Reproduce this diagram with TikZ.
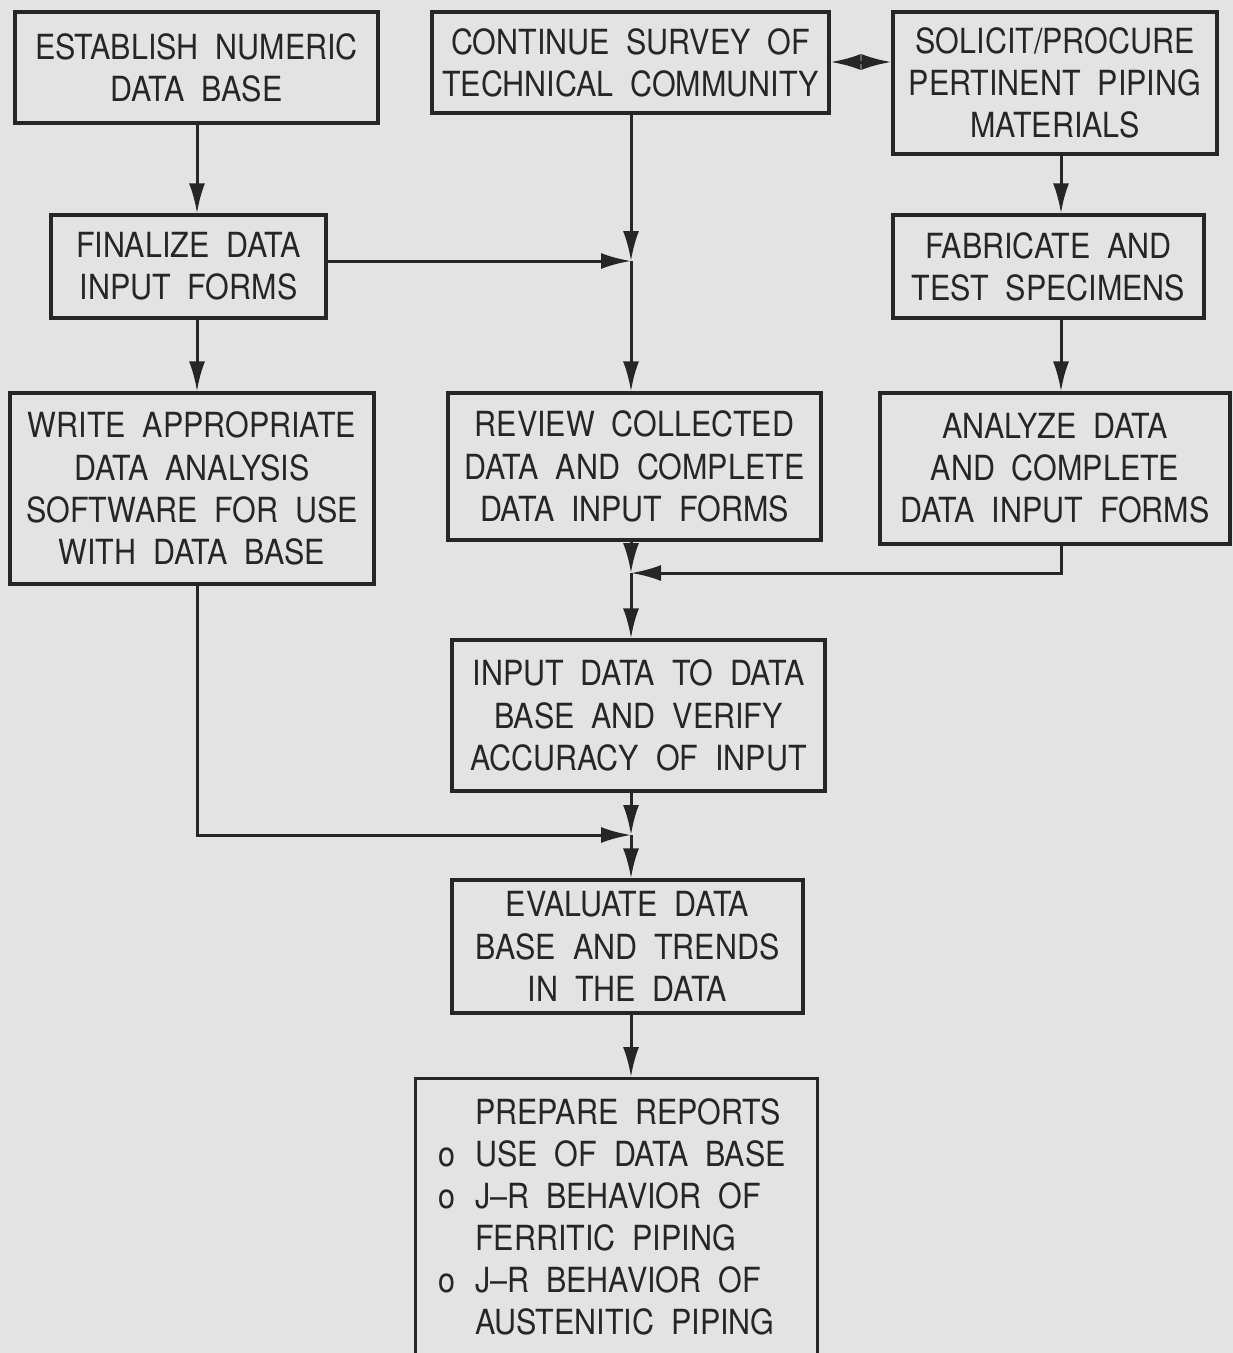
\documentclass[tikz,border=0pt]{standalone}
\usepackage{fontspec}
\setmainfont{TeX Gyre Heros}[FakeStretch=0.88, WordSpace=2]
\usetikzlibrary{arrows.meta}
\definecolor{paper}{HTML}{E3E3E3}
\definecolor{ink}{HTML}{262626}

\begin{document}
\begin{tikzpicture}[x=0.02cm, y=-0.02cm,
  box/.style={draw=ink, line width=0.065cm, inner sep=0pt, align=center,
              text=ink, font=\fontsize{19.7}{24}\selectfont},
  txt/.style={inner sep=0pt, text=ink, font=\fontsize{19.7}{24}\selectfont},
  link/.style={draw=ink, line width=0.06cm},
  arr/.style={link, -{Latex[length=0.6cm,width=0.32cm]}},
  dbl/.style={link, {Latex[length=0.6cm,width=0.32cm]}-{Latex[length=0.6cm,width=0.32cm]}},
]
% paper and frame
\fill[paper] (0,0) rectangle (1233,1353);
\clip (0,0) rectangle (1233,1353);

% process boxes
\node[box, minimum width=7.26cm, minimum height=2.22cm] (b1) at (196.5,67.5)
  {ESTABLISH NUMERIC\\DATA BASE};
\node[box, minimum width=7.94cm, minimum height=2.02cm] (b2) at (630.5,62.5)
  {CONTINUE SURVEY OF\\TECHNICAL COMMUNITY};
\node[box, minimum width=6.48cm, minimum height=2.84cm] (b3) at (1055,83)
  {SOLICIT/PROCURE\\PERTINENT PIPING\\MATERIALS};
\node[box, minimum width=5.50cm, minimum height=2.06cm] (b4) at (188.5,266.5)
  {FINALIZE DATA\\INPUT FORMS};
\node[box, minimum width=6.22cm, minimum height=2.06cm] (b5) at (1048.5,266.5)
  {FABRICATE AND\\TEST SPECIMENS};
\node[box, minimum width=7.28cm, minimum height=3.82cm] (b6) at (192,488.5)
  {WRITE APPROPRIATE\\DATA ANALYSIS\\SOFTWARE FOR USE\\WITH DATA BASE};
\node[box, minimum width=7.46cm, minimum height=2.94cm] (b7) at (634.5,466.5)
  {REVIEW COLLECTED\\DATA AND COMPLETE\\DATA INPUT FORMS};
\node[box, minimum width=7.00cm, minimum height=3.02cm] (b8) at (1055,468.5)
  {ANALYZE DATA\\AND COMPLETE\\DATA INPUT FORMS};
\node[box, minimum width=7.46cm, minimum height=3.02cm] (b9) at (638.5,715.5)
  {INPUT DATA TO DATA\\BASE AND VERIFY\\ACCURACY OF INPUT};
\node[box, minimum width=7.02cm, minimum height=2.66cm] (b10) at (627.5,946.5)
  {EVALUATE DATA\\BASE AND TRENDS\\IN THE DATA};
\node[box, minimum width=8.04cm, minimum height=6.00cm, anchor=north west] (b11) at (414,1077) {};
\node[txt, anchor=base west] (b11t) at (438,1124)
  {\begin{tabular}[t]{@{}c@{\hspace{0.4cm}}l@{}}
     & PREPARE REPORTS\\
   o & USE OF DATA BASE\\
   o & J--R BEHAVIOR OF\\
     & FERRITIC PIPING\\
   o & J--R BEHAVIOR OF\\
     & AUSTENITIC PIPING
   \end{tabular}};

% junctions and routing columns
\coordinate (j1) at (631,261);
\coordinate (j2) at (631,573);
\coordinate (j3) at (631,835);
\coordinate (cL) at (197,0);
\coordinate (cR) at (1061,0);
\coordinate (dy) at (0,62);

% connectors
\draw[arr] (b1.south -| cL) -- (b4.north -| cL);
\draw[arr] (b4.south -| cL) -- (b6.north -| cL);
\draw[arr] (b2.south -| j1) -- (j1);
\draw[arr] (b4.east |- j1) -- (j1);
\draw[arr] (j1) -- (b7.north -| j1);
\draw[dbl] (b2.east |- dy) -- (b3.west |- dy);
\draw[arr] (b3.south -| cR) -- (b5.north -| cR);
\draw[arr] (b5.south -| cR) -- (b8.north -| cR);
\draw[arr] (b8.south -| cR) |- (j2);
\draw[arr] (b7.south -| j2) -- (j2);
\draw[arr] (j2) -- (b9.north -| j2);
\draw[arr] (b6.south -| cL) |- (j3);
\draw[arr] (b9.south -| j3) -- (j3);
\draw[arr] (j3) -- (b10.north -| j3);
\draw[arr] (b10.south -| j3) -- (b11.north -| j3);
\end{tikzpicture}
\end{document}
